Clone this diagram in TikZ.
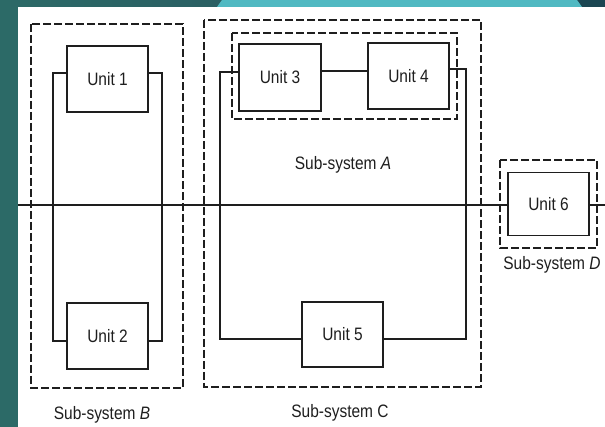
\documentclass[tikz,border=0pt]{standalone}
\usepackage{fontspec}
\setmainfont{Liberation Sans}[FakeStretch=0.86]
\begin{document}
\begin{tikzpicture}[x=1pt,y=-1pt,
  unitbox/.style={draw=ink,line width=1.2pt,fill=white,minimum width=81pt,minimum height=66pt,inner sep=0pt,font=\fontsize{18}{20}\selectfont,text=ink},
  wire/.style={draw=ink,line width=1.2pt},
  dbox/.style={draw=ink,line width=2.8pt,dash pattern=on 8pt off 3pt},
  lab/.style={font=\fontsize{18}{20}\selectfont,text=ink,inner sep=0pt}]
\definecolor{ink}{HTML}{1E1E1E}
\definecolor{tealdark}{HTML}{2C6A67}
\definecolor{tealmid}{HTML}{2A5F63}
\definecolor{cyanbar}{HTML}{50B9C2}
\definecolor{navy}{HTML}{1B4652}
\useasboundingbox (0,0) rectangle (605,427);
% background
\fill[tealdark] (0,0) rectangle (605,427);
\shade[left color=tealdark,right color=tealmid] (0,0) rectangle (222,7);
\fill[navy] (577,0) -- (605,0) -- (605,7) -- (582,7) -- cycle;
\fill[cyanbar] (222,0) -- (577,0) -- (582,7) -- (217,7) -- cycle;
\fill[white] (18,7) rectangle (605,427);
% dashed sub-system boxes
\draw[dbox] (31,24) rectangle (183,388);
\draw[dbox] (204,20) rectangle (481,387);
\draw[dbox] (232,33) rectangle (457,119);
\draw[dbox] (500,160) rectangle (597,248);
% main line
\coordinate (ml) at (18,205);
\coordinate (mr) at (605,205);
% units
\node[unitbox] (u1) at (107.5,79) {Unit 1};
\node[unitbox] (u2) at (107.5,336) {Unit 2};
\node[unitbox,minimum width=82pt,minimum height=67pt] (u3) at (280,77.5) {Unit 3};
\node[unitbox] (u4) at (408.5,76) {Unit 4};
\node[unitbox,minimum height=65pt] (u5) at (342.5,334.5) {Unit 5};
\node[unitbox,minimum height=63pt] (u6) at (548.5,204) {Unit 6};
% connectors
\coordinate (a1) at (53,73); \coordinate (a2) at (53,341);
\coordinate (b1) at (162,73); \coordinate (b2) at (162,341);
\draw[wire] (u1.west|-a1) -- (a1) -- (a2) -- (u2.west|-a2);
\draw[wire] (u1.east|-b1) -- (b1) -- (b2) -- (u2.east|-b2);
\coordinate (c1) at (220,72); \coordinate (c2) at (220,339);
\coordinate (d1) at (466,69); \coordinate (d2) at (466,339);
\draw[wire] (u3.west|-c1) -- (c1) -- (c2) -- (u5.west|-c2);
\draw[wire] (u4.east|-d1) -- (d1) -- (d2) -- (u5.east|-d2);
\coordinate (e) at (0,71);
\draw[wire] (u3.east|-e) -- (u4.west|-e);
\draw[wire] (ml) -- (u6.west|-ml);
\draw[wire] (u6.east|-mr) -- (mr);
% labels
\node[lab] (la) at (343,165) {Sub-system \textit{A}};
\node[lab] (lb) at (102,415) {Sub-system \textit{B}};
\node[lab] (lc) at (340,413) {Sub-system C};
\node[lab] (ld) at (552,265) {Sub-system \textit{D}};
\end{tikzpicture}
\end{document}
